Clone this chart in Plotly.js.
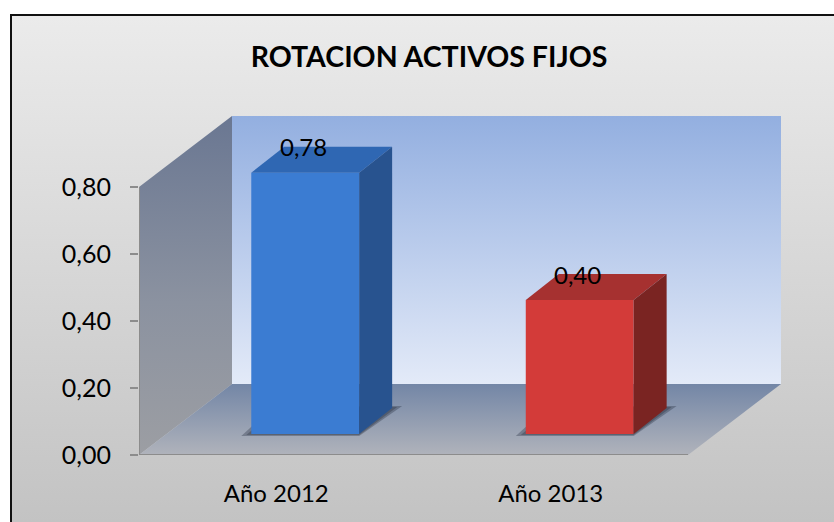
<!DOCTYPE html>
<html>
<head>
<meta charset="utf-8">
<script src="https://cdn.plot.ly/plotly-3.0.1.min.js"></script>
<style>
  html, body { margin: 0; padding: 0; overflow: hidden; background: #ffffff; }
  #bg { position: absolute; left: 12px; top: 16px; width: 822px; height: 506px;
        background: linear-gradient(to bottom, #ebebeb, #c3c3c3); }
  #chart { position: absolute; left: 0; top: 0; width: 834px; height: 522px; }
</style>
</head>
<body>
<div id="bg"></div>
<div id="chart"></div>
<script>
// ---- data ----
const categories = ['Año 2012', 'Año 2013'];
const values = [0.78, 0.40];
const yTickVals = [0, 0.2, 0.4, 0.6, 0.8];
const chartTitle = 'ROTACION ACTIVOS FIJOS';

// ---- styles ----
const frontColors = ['#3b7cd2', '#d33b39'];
const topColors = ['#2f67b3', '#a63130'];
const sideColors = ['#28538f', '#7a2422'];
const FONT = 'Lato, "Open Sans", sans-serif';

// ---- geometry (pixel scale -> axis units) ----
const W = 834, H = 522;
const M = { l: 139, r: 44, t: 100, b: 67 };
const PX_X = 274.5, PX_Y = 335;
const xMin = -0.5, xMax = xMin + (W - M.l - M.r) / PX_X;
const yMin = 0, yMax = (H - M.t - M.b) / PX_Y;
const wallTop = yTickVals[yTickVals.length - 1];
const wdx = 93 / PX_X, wdy = 71 / PX_Y;          // wall depth
const barBase = 21 / PX_Y;                        // bar front sits set back in depth
const barOffset = -0.091, barWidth = 0.393;
const bdx = 33 / PX_X, bdy = 26 / PX_Y;           // bar depth
const xEnd = xMin + categories.length;

const traces = [];
function poly(xs, ys, opts, axes) {
  const t = Object.assign({
    type: 'scatter', mode: 'lines', x: xs.concat([xs[0]]), y: ys.concat([ys[0]]),
    fill: 'toself', line: { width: 0 }, hoverinfo: 'skip', showlegend: false
  }, opts);
  if (axes) { t.xaxis = 'x2'; t.yaxis = 'y2'; }
  traces.push(t);
}

// walls & floor (main axes)
poly([xMin, xMin, xMin + wdx, xMin + wdx], [0, wallTop, wallTop + wdy, wdy],
  { fillgradient: { type: 'vertical', colorscale: [[0, '#9c9ea3'], [0.45, '#8b92a0'], [1, '#6a7792']] } });
poly([xMin + wdx, xEnd + wdx, xEnd + wdx, xMin + wdx], [wdy, wdy, wallTop + wdy, wallTop + wdy],
  { fillgradient: { type: 'vertical', colorscale: [[0, '#e3eaf8'], [1, '#93afe0']] } });
poly([xMin, xEnd, xEnd + wdx, xMin + wdx], [0, 0, wdy, wdy],
  { fillgradient: { type: 'vertical', colorscale: [[0, '#b0b3bb'], [1, '#7386a6']] } });

// soft shadows on the floor under each bar
values.forEach((v, i) => {
  const x0 = i + barOffset, x1 = x0 + barWidth;
  const sx = 10 / PX_X, sy = 2 / PX_Y;
  poly([x0 - sx, x1, x1 + bdx + sx, x0 + bdx - sx],
       [barBase - sy, barBase - sy, barBase + bdy + sy, barBase + bdy + sy],
       { fillcolor: 'rgba(40,48,66,0.35)' });
  poly([x0 - sx / 2, x1, x1 + bdx + sx / 2, x0 + bdx - sx / 2],
       [barBase - sy / 2, barBase - sy / 2, barBase + bdy + sy / 2, barBase + bdy + sy / 2],
       { fillcolor: 'rgba(30,36,50,0.3)' });
});

// bars (overlay axes so they sit above the walls)
traces.push({
  type: 'bar', x: categories.map((c, i) => i), y: values, base: barBase,
  width: barWidth, offset: barOffset, xaxis: 'x2', yaxis: 'y2',
  marker: { color: frontColors, line: { width: 0 } }, hoverinfo: 'skip', showlegend: false
});
values.forEach((v, i) => {
  const x0 = i + barOffset, x1 = x0 + barWidth, t = barBase + v;
  poly([x0, x0 + bdx, x1 + bdx, x1], [t, t + bdy, t + bdy, t], { fillcolor: topColors[i] }, true);
  poly([x1, x1 + bdx, x1 + bdx, x1], [barBase, barBase + bdy, t + bdy, t], { fillcolor: sideColors[i] }, true);
});

const annotations = values.map((v, i) => ({
  xref: 'x2', yref: 'y2', x: i + barOffset + barWidth / 2 - 2 / PX_X, y: barBase + v + bdy,
  text: v.toFixed(2).replace('.', ','), showarrow: false, xanchor: 'center', yanchor: 'middle',
  font: { family: FONT, size: 24, color: '#000' }
}));

// chart frame (left and top edges) in paper coordinates
const pw = W - M.l - M.r, ph = H - M.t - M.b;
const px = p => (p - M.l) / pw, py = p => (H - M.b - p) / ph;
const shapes = [
  { type: 'line', xref: 'paper', yref: 'paper', x0: px(11), x1: px(11), y0: py(14), y1: py(540), line: { color: '#111', width: 2 } },
  { type: 'line', xref: 'paper', yref: 'paper', x0: px(10), x1: px(850), y0: py(15), y1: py(15), line: { color: '#111', width: 2 } },
  { type: 'line', xref: 'x', yref: 'y', x0: xMin, x1: xMin, y0: 0, y1: wallTop, line: { color: '#8c8c8c', width: 2 } },
  { type: 'line', xref: 'x', yref: 'y', x0: xMin, x1: xEnd, y0: 0, y1: 0, line: { color: '#8c8c8c', width: 2 } }
];

const layout = {
  width: W, height: H, margin: M,
  paper_bgcolor: 'rgba(0,0,0,0)', plot_bgcolor: 'rgba(0,0,0,0)',
  separators: ',.',
  showlegend: false,
  title: { text: '<b>' + chartTitle + '</b>', font: { family: FONT, size: 28.5, color: '#000' },
           xref: 'container', x: 429 / W, xanchor: 'center', yref: 'container', y: 1 - 57 / H, yanchor: 'middle' },
  xaxis: { range: [xMin, xMax], tickvals: categories.map((c, i) => i), ticktext: categories,
           ticks: '', showgrid: false, zeroline: false, showline: false, fixedrange: true,
           ticklabelstandoff: 22, tickfont: { family: FONT, size: 24, color: '#000' } },
  yaxis: { range: [yMin, yMax], tickvals: yTickVals, tickformat: '.2f', ticks: 'outside',
           ticklen: 8, tickwidth: 2, tickcolor: '#8c8c8c', showgrid: false, zeroline: false,
           showline: false, fixedrange: true, ticklabelstandoff: 14,
           tickfont: { family: FONT, size: 25, color: '#000' } },
  xaxis2: { range: [xMin, xMax], overlaying: 'x', visible: false, fixedrange: true },
  yaxis2: { range: [yMin, yMax], overlaying: 'y', visible: false, fixedrange: true },
  shapes: shapes, annotations: annotations
};

Plotly.newPlot('chart', traces, layout, { staticPlot: true, displayModeBar: false });
</script>
</body>
</html>
